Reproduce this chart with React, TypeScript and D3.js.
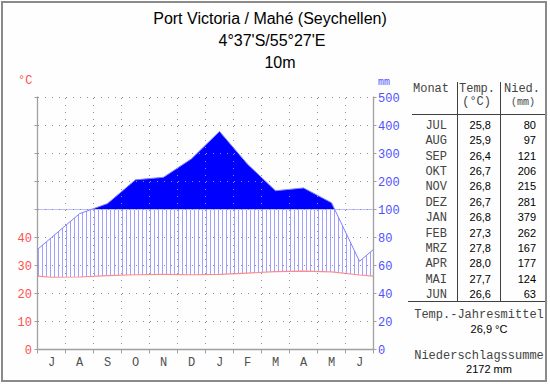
import React from "react";
import * as d3 from "d3";

const months = ["JUL", "AUG", "SEP", "OKT", "NOV", "DEZ", "JAN", "FEB", "MRZ", "APR", "MAI", "JUN"];
const monthLetters = ["J", "A", "S", "O", "N", "D", "J", "F", "M", "A", "M", "J"];
const temps = [25.8, 25.9, 26.4, 26.7, 26.8, 26.7, 26.8, 27.3, 27.8, 28.0, 27.7, 26.6];
const precip = [80, 97, 121, 206, 215, 281, 379, 262, 167, 177, 124, 63];
const tempLabels = ["25,8", "25,9", "26,4", "26,7", "26,8", "26,7", "26,8", "27,3", "27,8", "28,0", "27,7", "26,6"];
const tempTicks = [0, 10, 20, 30, 40];
const precipTicks = [0, 20, 40, 60, 80, 100, 200, 300, 400, 500];
const gridLevels = [0, 10, 20, 30, 40, 50, 60, 70, 80, 90];
const titleLines = ["Port Victoria / Mahé (Seychellen)", "4°37'S/55°27'E", "10m"];
const annualTemp = "26,9 °C";
const annualPrecip = "2172 mm";

const X0 = 37.5, X1 = 373.5, YB = 349.5, YT = 97.5;
const MONO = "'Liberation Mono', 'DejaVu Sans Mono', monospace";
const SANS = "'Liberation Sans', Arial, sans-serif";

export default function App() {
  const xBand = d3.scaleBand<number>().domain(d3.range(12)).range([X0, X1]);
  const xc = (i: number) => (xBand(i) as number) + xBand.bandwidth() / 2;
  const yT = d3.scaleLinear().domain([0, 90]).range([YB, YT]);
  const yP = d3.scaleLinear().domain([0, 100, 500]).range([YB, yT(50), YT]);
  const y100 = yP(100);

  const edgeT = (temps[0] + temps[11]) / 2;
  const edgeP = (precip[0] + precip[11]) / 2;
  const tPts: [number, number][] = [[X0, yT(edgeT)], ...temps.map((t, i) => [xc(i), yT(t)] as [number, number]), [X1, yT(edgeT)]];
  const pPts: [number, number][] = [[X0, yP(edgeP)], ...precip.map((p, i) => [xc(i), yP(p)] as [number, number]), [X1, yP(edgeP)]];

  const interp = (pts: [number, number][], x: number) => {
    for (let i = 0; i < pts.length - 1; i++) {
      const [ax, ay] = pts[i], [bx, by] = pts[i + 1];
      if (x >= ax && x <= bx) return ay + ((x - ax) / (bx - ax)) * (by - ay);
    }
    return pts[pts.length - 1][1];
  };

  const line = d3.line();
  const area = d3.area<[number, number]>().x(d => d[0]).y0(y100).y1(d => d[1]);

  const hatchX = d3.range(X0 + 1, X1, 4);
  const hatch = hatchX.map(x => {
    const top = Math.max(interp(pPts, x), y100);
    const bot = interp(tPts, x);
    return { x, top, bot };
  }).filter(h => h.top < h.bot);

  const rowY = (i: number) => 129 + i * 15.36;

  return (
    <div style={{ position: "absolute", left: 0, top: 0 }}>
      <svg width={550} height={384} style={{ display: "block", background: "#fff" }}>
        <rect x={2} y={2} width={544} height={379} fill="#fdfefd" stroke="#8a8a8a" strokeWidth={2} />
        {titleLines.map((t, i) => (
          <text key={i} x={[270, 272, 280][i]} y={[24, 46, 68][i]} textAnchor="middle" fontFamily={SANS} fontSize={16} fill="#000">{t}</text>
        ))}
        <text x={18} y={84} fontFamily={MONO} fontSize={12} fill="#ff5050">°C</text>
        <text x={378} y={85} fontFamily={MONO} fontSize={10} fill="#5050ff">mm</text>

        <defs>
          <clipPath id="above100"><rect x={X0} y={YT - 5} width={X1 - X0} height={y100 - YT + 5} /></clipPath>
        </defs>

        {/* hatch */}
        {hatch.map((h, i) => (
          <line key={i} x1={h.x} x2={h.x} y1={h.top} y2={h.bot} stroke="#a0a0ff" strokeWidth={1} shapeRendering="crispEdges" />
        ))}
        {/* solid fill above 100 mm */}
        <path d={area(pPts) as string} fill="#0000ff" clipPath="url(#above100)" />
        <path d={line(pPts) as string} fill="none" stroke="#8080ff" strokeWidth={1} />
        <path d={line(tPts) as string} fill="none" stroke="#ff8c8c" strokeWidth={1.2} />

        {/* grid */}
        {gridLevels.slice(1).map(g => (
          <line key={g} x1={X0} x2={X1} y1={yT(g)} y2={yT(g)} stroke="#909090" strokeWidth={1} strokeDasharray="1.5,5.5" shapeRendering="crispEdges" />
        ))}
        {d3.range(1, 12).map(i => (
          <line key={i} x1={xBand(i) as number} x2={xBand(i) as number} y1={YT} y2={YB} stroke="#909090" strokeWidth={1} strokeDasharray="1.5,5.5" shapeRendering="crispEdges" />
        ))}

        {/* axes */}
        <line x1={X0} x2={X0} y1={YT - 1} y2={YB} stroke="#a0a0a0" strokeWidth={1.3} />
        <line x1={X1} x2={X1} y1={YT - 1} y2={YB} stroke="#a0a0a0" strokeWidth={1.3} />
        <line x1={X0} x2={X1} y1={YB} y2={YB} stroke="#a0a0a0" strokeWidth={1.3} />
        {gridLevels.map(g => (
          <g key={g}>
            <line x1={X0 - 3} x2={X0} y1={yT(g)} y2={yT(g)} stroke="#a0a0a0" />
            <line x1={X1} x2={X1 + 3} y1={yT(g)} y2={yT(g)} stroke="#a0a0a0" />
          </g>
        ))}
        {d3.range(0, 13).map(i => (
          <line key={i} x1={X0 + i * xBand.step()} x2={X0 + i * xBand.step()} y1={YB} y2={YB + 4} stroke="#a0a0a0" />
        ))}
        {tempTicks.map(t => (
          <text key={t} x={32} y={yT(t) + 4} textAnchor="end" fontFamily={MONO} fontSize={12} fill="#ff5050">{t}</text>
        ))}
        {precipTicks.map(p => (
          <text key={p} x={378} y={yP(p) + 4} fontFamily={MONO} fontSize={12} fill="#5050ff">{p}</text>
        ))}
        {monthLetters.map((m, i) => (
          <text key={i} x={xc(i)} y={366} textAnchor="middle" fontFamily={MONO} fontSize={12} fill="#505050">{m}</text>
        ))}

        {/* table */}
        <line x1={457.5} x2={457.5} y1={82} y2={301} stroke="#404040" />
        <line x1={500.5} x2={500.5} y1={82} y2={301} stroke="#404040" />
        <line x1={412} x2={545} y1={114.5} y2={114.5} stroke="#404040" />
        <line x1={408} x2={545} y1={301.5} y2={301.5} stroke="#404040" />
        <text x={431} y={92} textAnchor="middle" fontFamily={MONO} fontSize={12} fill="#444">Monat</text>
        <text x={495} y={92} textAnchor="end" fontFamily={MONO} fontSize={12} fill="#444">Temp.</text>
        <text x={491} y={105} textAnchor="end" fontFamily={MONO} fontSize={12} fill="#444">(°C)</text>
        <text x={540} y={92} textAnchor="end" fontFamily={MONO} fontSize={12} fill="#444">Nied.</text>
        <text x={535} y={105} textAnchor="end" fontFamily={MONO} fontSize={10} fill="#444">(mm)</text>
        {months.map((m, i) => (
          <g key={m}>
            <text x={447} y={rowY(i)} textAnchor="end" fontFamily={MONO} fontSize={12} fill="#444">{m}</text>
            <text x={491} y={rowY(i)} textAnchor="end" fontFamily={SANS} fontSize={11} fill="#000">{tempLabels[i]}</text>
            <text x={536} y={rowY(i)} textAnchor="end" fontFamily={SANS} fontSize={11} fill="#000">{precip[i]}</text>
          </g>
        ))}
        <text x={479} y={318} textAnchor="middle" fontFamily={MONO} fontSize={12} fill="#444">Temp.-Jahresmittel</text>
        <text x={489} y={333} textAnchor="middle" fontFamily={SANS} fontSize={11} fill="#000">{annualTemp}</text>
        <text x={479} y={359} textAnchor="middle" fontFamily={MONO} fontSize={12} fill="#444">Niederschlagssumme</text>
        <text x={489} y={373} textAnchor="middle" fontFamily={SANS} fontSize={11} fill="#000">{annualPrecip}</text>
      </svg>
    </div>
  );
}
